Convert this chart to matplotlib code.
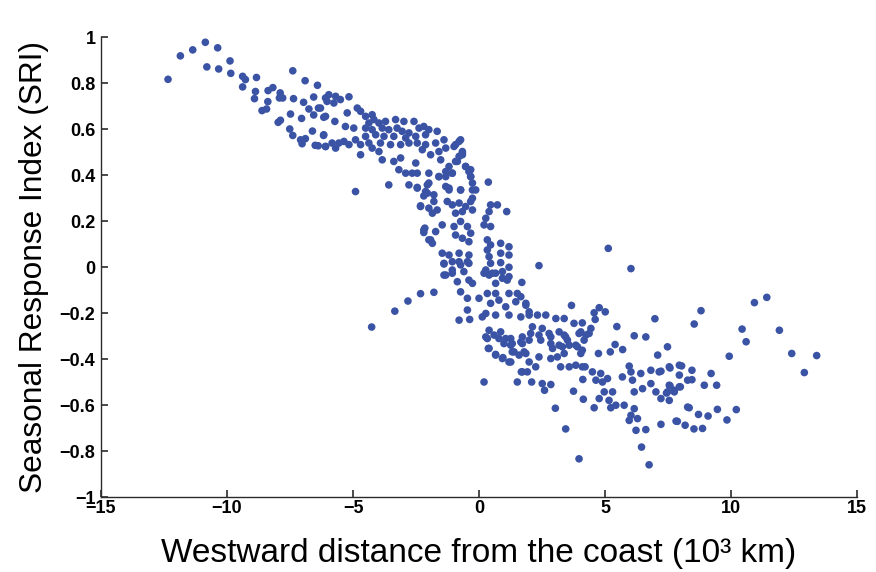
import matplotlib
matplotlib.use("Agg")
import matplotlib.pyplot as plt
import numpy as np

# ---- data (x: westward distance, 10^3 km ; y: SRI) ----
x_far_west = [-12.34,-11.85,-11.36,-10.86,-10.37,-9.88,-10.80,-10.33,-9.85,-9.38,
              -9.27,-8.83,-9.38,-8.87,-8.91,-8.38,-8.37,-8.18,-7.89,-7.92,
              -7.79,-8.61,-8.43,-7.97,-7.88,-7.48,-7.36,-7.39,-6.90,-6.41,
              -6.96,-6.75,-6.56,-6.37,-6.56,-7.04,-6.16,-6.09,-7.51,-7.39,
              -7.08,-6.89,-6.61,-6.17,-6.50,-6.38,-6.09,-7.02]
y_far_west = [0.816,0.918,0.944,0.977,0.953,0.896,0.870,0.861,0.842,0.829,
              0.815,0.824,0.783,0.763,0.732,0.719,0.767,0.780,0.757,0.735,
              0.735,0.680,0.687,0.629,0.638,0.665,0.732,0.853,0.810,0.790,
              0.716,0.687,0.739,0.691,0.661,0.646,0.651,0.735,0.600,0.572,
              0.553,0.558,0.591,0.572,0.529,0.527,0.524,0.536]

x_plateau = [-5.96,-5.69,-5.50,-5.16,-6.03,-5.76,-6.29,-5.23,-4.83,-4.70,
             -6.09,-5.72,-5.30,-6.16,-4.97,-4.50,-4.24,-4.17,-4.37,-3.97,
             -3.71,-3.31,-2.98,-2.58,-4.50,-4.24,-3.84,-3.58,-3.25,-3.05,
             -2.78,-2.38,-2.19,-1.99,-1.66,-2.12,-2.51,-2.91,-3.38,-3.77,
             -4.10,-4.50,-4.90,-5.16,-5.56,-5.83,-6.09,-5.69,-5.36,-4.70,
             -4.37,-4.24,-3.91,-3.97,-3.51,-3.11,-2.78,-2.45,-2.12,-1.72,
             -1.39,-1.32,-0.93,-0.73,-0.66,-1.59,-1.92,-2.25,-1.52,-0.93,
             -0.53,-0.33,-1.19,-1.06,-1.32,-1.59,-1.99,-2.45,-2.65,-2.91,
             -3.18,-3.38,-3.11,-2.51,-3.84,-4.70,-3.58,-2.78,-2.45,-2.05,
             -2.05,-1.32,-1.19,-0.73,-0.33,-0.26,-4.90,-0.79,-0.66,-0.13]
y_plateau = [0.749,0.742,0.728,0.740,0.720,0.713,0.691,0.670,0.691,0.677,
             0.655,0.633,0.611,0.575,0.604,0.655,0.662,0.641,0.626,0.626,
             0.633,0.641,0.633,0.633,0.604,0.597,0.604,0.597,0.604,0.590,
             0.583,0.604,0.611,0.597,0.590,0.575,0.568,0.561,0.568,0.568,
             0.575,0.568,0.553,0.532,0.539,0.539,0.524,0.517,0.546,0.532,
             0.539,0.517,0.539,0.502,0.532,0.532,0.539,0.539,0.532,0.539,
             0.553,0.517,0.532,0.553,0.502,0.502,0.488,0.510,0.466,0.459,
             0.437,0.423,0.437,0.408,0.415,0.393,0.408,0.408,0.408,0.408,
             0.423,0.459,0.474,0.452,0.466,0.488,0.357,0.357,0.343,0.357,
             0.321,0.350,0.335,0.335,0.393,0.365,0.328,0.481,0.488,0.335]

x_drop = [-0.79,-0.99,-0.66,-0.86,-0.53,-0.40,-0.33,-1.06,-1.32,-1.59,
          -1.99,-2.12,-1.79,-1.19,-0.73,-0.26,-0.26,0.37,-1.26,-1.06,
          -0.79,-0.53,-0.33,-0.26,-0.66,-0.93,-1.79,-1.66,-1.85,-2.32,
          0.46,0.73,1.10,0.40,0.20,0.46,0.27,-0.99,-0.73,-0.46,
          -0.33,-0.93,-1.46,-1.72,-2.19,-1.92,-1.85,-0.66,-0.40,0.33,
          0.46,0.86,1.19,-1.46,-1.19,-0.79,-0.40,0.33,0.40,0.86,
          1.19,-1.39,-1.06,-0.73,-0.40,-1.39,-1.06,-0.60,0.27,0.53,
          0.93,1.19]
y_drop = [0.546,0.524,0.495,0.459,0.437,0.415,0.393,0.408,0.393,0.393,
          0.365,0.328,0.314,0.343,0.335,0.335,0.299,0.369,0.285,0.270,
          0.278,0.263,0.285,0.248,0.241,0.234,0.285,0.248,0.234,0.263,
          0.270,0.270,0.241,0.241,0.183,0.176,0.212,0.176,0.198,0.176,
          0.147,0.139,0.183,0.154,0.161,0.118,0.103,0.125,0.110,0.118,
          0.096,0.103,0.088,0.060,0.052,0.060,0.052,0.074,0.045,0.060,
          0.052,0.016,0.023,0.009,0.016,-0.035,-0.027,-0.020,-0.013,-0.027,
          -0.020,-0.042]

x_left_strays = [-2.45,-2.19,-2.32,-1.99,-2.15,-2.19,-1.99,-2.32,-2.82,-3.34,-4.26]
y_left_strays = [0.346,0.309,0.266,0.256,0.169,0.150,0.118,-0.116,-0.148,-0.192,-0.261]

x_coast = [-1.79,-1.39,-1.32,-1.06,-0.79,-0.46,-0.86,-0.73,-0.40,-0.26,
           -0.46,-0.46,-0.79,-0.37,0.13,0.46,0.86,1.19,0.20,0.40,
           0.66,0.93,1.12,0.66,1.70,0.33,0.66,1.19,1.52,0.00,
           0.46,0.79,1.06,1.46,1.86,0.27,0.66,1.19,1.66,1.99,
           0.40,0.86,1.06,0.33,0.40,0.66,0.93,1.19,1.39,1.26,
           1.66,1.79,1.72,1.52,0.20]
y_coast = [-0.110,0.013,-0.035,-0.013,0.023,0.023,-0.064,-0.108,-0.057,-0.071,
           -0.136,-0.187,-0.231,-0.228,-0.217,0.016,0.019,-0.001,-0.027,-0.035,
           -0.027,-0.049,-0.057,-0.071,-0.067,-0.115,-0.115,-0.115,-0.115,-0.136,
           -0.158,-0.144,-0.173,-0.151,-0.158,-0.202,-0.209,-0.209,-0.217,-0.195,
           -0.275,-0.282,-0.311,-0.311,-0.354,-0.383,-0.398,-0.413,-0.369,-0.340,
           -0.326,-0.369,-0.456,-0.500,-0.500]

x_east_a = [0.27,0.60,0.37,0.66,0.95,1.26,2.09,1.68,1.92,2.51,
            2.85,2.60,3.03,3.44,3.75,4.14,4.12,4.21,3.84,3.58,
            3.24,3.38,3.11,2.85,2.38,2.25,1.99,1.86,1.59,1.32,
            0.99,1.32,1.72,1.99,2.45,2.85,3.18,3.51,3.84,4.10,
            2.05,2.38,2.78,3.38,3.97,1.26,0.79]
y_east_a = [-0.304,-0.296,-0.354,-0.380,-0.394,-0.413,-0.500,-0.456,-0.456,-0.507,
            -0.511,-0.536,-0.614,-0.704,-0.540,-0.575,-0.489,-0.434,-0.427,-0.434,
            -0.434,-0.376,-0.391,-0.398,-0.391,-0.434,-0.413,-0.376,-0.383,-0.369,
            -0.333,-0.333,-0.333,-0.318,-0.318,-0.333,-0.340,-0.318,-0.340,-0.362,
            -0.289,-0.296,-0.289,-0.296,-0.289,-0.311,-0.311]

x_east_b = [5.13,2.38,6.03,3.67,4.77,5.01,4.57,4.61,5.47,6.16,
            5.40,5.70,5.21,4.74,4.44,4.24,4.04,3.77,4.10,3.38,
            3.05,2.65,2.32,1.99,1.86,1.66,2.12,2.51,2.85,3.18,
            3.44,3.58,3.31,2.92,3.91,1.72,6.98,6.62]
y_east_b = [0.081,0.006,-0.007,-0.167,-0.177,-0.195,-0.199,-0.228,-0.259,-0.299,
            -0.337,-0.359,-0.369,-0.376,-0.267,-0.296,-0.282,-0.245,-0.243,-0.224,
            -0.224,-0.209,-0.209,-0.209,-0.166,-0.129,-0.260,-0.267,-0.304,-0.282,
            -0.304,-0.340,-0.347,-0.354,-0.347,-0.304,-0.225,-0.304]

x_east_c = [7.48,7.09,4.37,4.17,4.04,4.10,4.50,4.83,4.64,4.90,
            5.10,4.97,5.30,4.77,5.16,4.57,5.23,5.43,5.76,6.16,
            6.49,6.82,7.02,7.22,7.55,7.48,7.75,7.95,7.55,5.69,
            6.09,6.03,6.42,6.82,5.96,6.16,6.29,5.96,6.23,6.62,
            6.03,7.22,7.82,8.18,6.45,6.75,3.97,7.95,7.55,7.15,
            7.95,8.28,8.28]
y_east_c = [-0.347,-0.383,-0.289,-0.318,-0.376,-0.434,-0.456,-0.463,-0.492,-0.500,
            -0.485,-0.543,-0.543,-0.572,-0.580,-0.612,-0.612,-0.601,-0.601,-0.543,
            -0.529,-0.507,-0.543,-0.572,-0.580,-0.543,-0.536,-0.521,-0.514,-0.478,
            -0.492,-0.456,-0.463,-0.449,-0.431,-0.616,-0.659,-0.667,-0.710,-0.707,
            -0.645,-0.684,-0.670,-0.688,-0.783,-0.860,-0.834,-0.427,-0.434,-0.456,
            -0.470,-0.492,-0.609]

x_far_east = [8.81,8.54,10.93,11.42,10.44,10.60,9.93,7.22,7.58,8.04,
              8.45,9.21,8.45,8.94,9.43,7.99,7.58,7.75,7.44,8.34,
              8.71,9.09,9.46,10.21,9.84,7.87,8.53,8.87,
              11.92,12.41,13.40,12.91]
y_far_east = [-0.190,-0.248,-0.155,-0.132,-0.270,-0.325,-0.388,-0.453,-0.439,-0.430,
              -0.449,-0.463,-0.490,-0.514,-0.514,-0.521,-0.517,-0.543,-0.548,-0.612,
              -0.641,-0.648,-0.619,-0.620,-0.665,-0.671,-0.704,-0.702,
              -0.275,-0.376,-0.385,-0.459]

x_ticks = [-15, -10, -5, 0, 5, 10, 15]
x_tick_labels = ["\u221215", "\u221210", "\u22125", "0", "5", "10", "15"]
y_ticks = [-1, -0.8, -0.6, -0.4, -0.2, 0, 0.2, 0.4, 0.6, 0.8, 1]
y_tick_labels = ["\u22121", "\u22120.8", "\u22120.6", "\u22120.4", "\u22120.2", "0",
                 "0.2", "0.4", "0.6", "0.8", "1"]

xs = [x_far_west, x_plateau, x_drop, x_left_strays, x_coast, x_east_a, x_east_b, x_east_c, x_far_east]
ys = [y_far_west, y_plateau, y_drop, y_left_strays, y_coast, y_east_a, y_east_b, y_east_c, y_far_east]
x_all = np.concatenate([np.asarray(a, float) for a in xs])
y_all = np.concatenate([np.asarray(a, float) for a in ys])

plt.rcParams['font.family'] = ['Liberation Sans', 'DejaVu Sans']

W, H = 876, 572
fig = plt.figure(figsize=(W / 100, H / 100), dpi=100)
ax = fig.add_axes([101 / W, 1 - 497 / H, (857 - 101) / W, (497 - 37) / H])

ax.scatter(x_all, y_all, s=30, c='#3A53A4', edgecolors='none', zorder=3, clip_on=False)

ax.set_xlim(-15, 15)
ax.set_ylim(-1, 1)
ax.set_xticks(x_ticks)
ax.set_xticklabels(x_tick_labels)
ax.set_yticks(y_ticks)
ax.set_yticklabels(y_tick_labels)

for s in ['top', 'right']:
    ax.spines[s].set_visible(False)
for s in ['left', 'bottom']:
    ax.spines[s].set_color('#2b2b2b')
    ax.spines[s].set_linewidth(1.0)

ax.tick_params(direction='in', length=5, width=1.2, colors='#2b2b2b',
               labelcolor='black', labelsize=13)
ax.tick_params(axis='x', pad=2)
ax.tick_params(axis='y', pad=4)
for lbl in ax.get_xticklabels() + ax.get_yticklabels():
    lbl.set_fontweight('bold')

ax.set_xlabel('Westward distance from the coast (10\u00b3 km)', fontsize=24, labelpad=15)
ax.set_ylabel('Seasonal Response Index (SRI)', fontsize=22.8, labelpad=8)

fig.savefig('out.png', dpi=100)
